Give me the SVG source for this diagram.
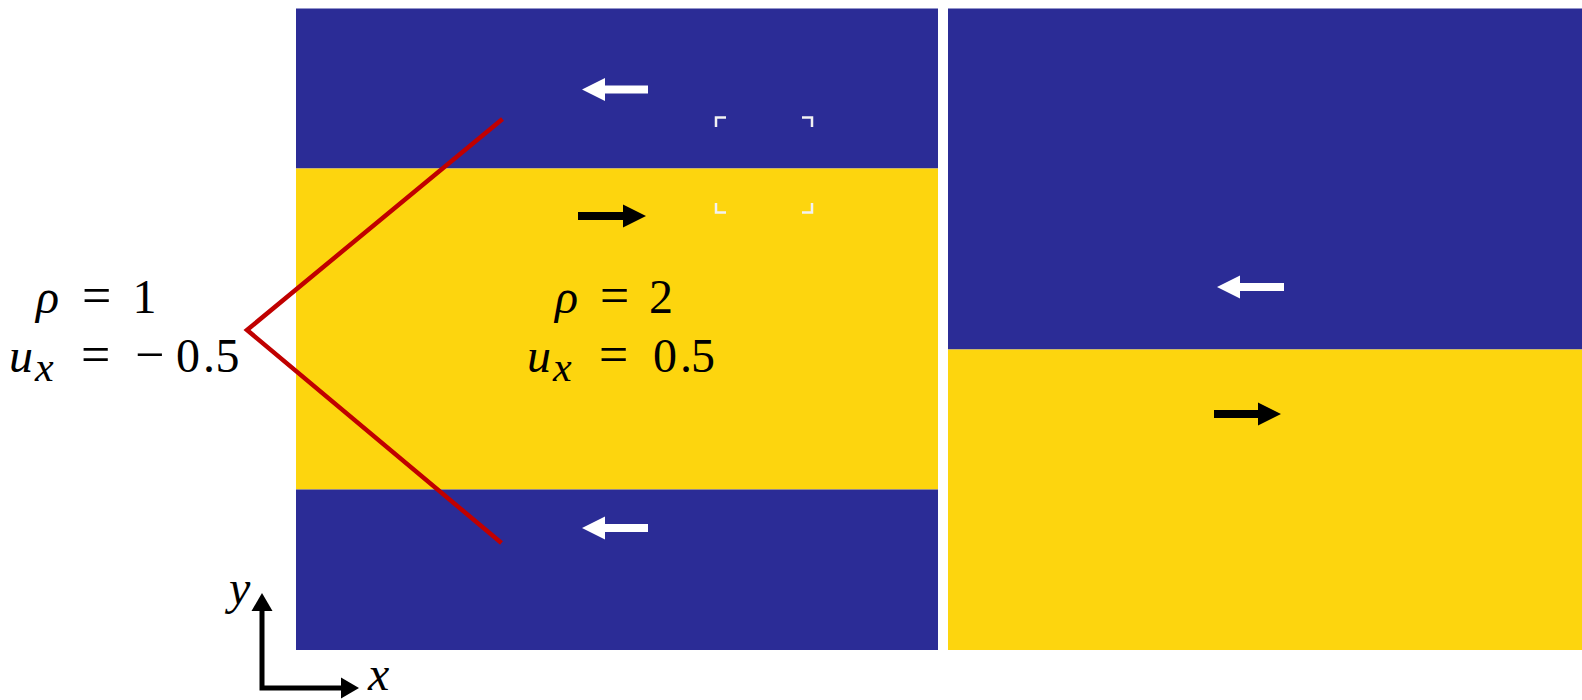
<svg xmlns="http://www.w3.org/2000/svg" width="1582" height="700" viewBox="0 0 1582 700">
<defs>
<style>
.blue{fill:#2B2C96}
.yellow{fill:#FDD50E}
.wa{fill:#FFFFFF}
.ba{fill:#000000}
.lbl{font-family:"Liberation Serif","Times New Roman",serif;font-size:48px;fill:#000}
.it{font-style:italic}
.sub{font-size:42px;font-style:italic}
.op{font-size:52px}
.br{fill:none;stroke:#F2F2F2;stroke-width:2.5}
.ax{stroke:#000;stroke-width:5;fill:none}
</style>
</defs>
<rect width="1582" height="700" fill="#FFFFFF"/>
<g id="left-panel">
<rect class="blue" x="296" y="8.5" width="642" height="160"/>
<rect class="yellow" x="296" y="168.5" width="642" height="321"/>
<rect class="blue" x="296" y="489.5" width="642" height="160.5"/>
</g>
<g id="right-panel">
<rect class="blue" x="948" y="8.5" width="634" height="341"/>
<rect class="yellow" x="948" y="349.5" width="634" height="300.5"/>
</g>
<g id="arrows">
<polygon class="wa" points="582,89.5 605,78 605,85.5 648,85.5 648,93.5 605,93.5 605,101"/>
<polygon class="ba" points="646,216 623,204.5 623,212 578,212 578,220 623,220 623,227.5"/>
<polygon class="wa" points="582,528 605,516.5 605,524 648,524 648,532 605,532 605,539.5"/>
<polygon class="wa" points="1217,287 1240,275.5 1240,283 1284,283 1284,291 1240,291 1240,298.5"/>
<polygon class="ba" points="1281,414 1258,402.5 1258,410 1214,410 1214,418 1258,418 1258,425.5"/>
</g>
<g id="brackets">
<path class="br" d="M716,127 V117.5 H726"/>
<path class="br" d="M802,117.5 H812 V127"/>
<path class="br" d="M716,203 V212.5 H726"/>
<path class="br" d="M802,212.5 H812 V203"/>
</g>
<g id="connectors">
<polyline points="502.5,119 247,330 501.5,543" fill="none" stroke="#C00000" stroke-width="4.5"/>
</g>
<g id="label-outer">
<text class="lbl" y="313"><tspan class="it" x="36">ρ </tspan><tspan class="op" x="82" y="313">= </tspan><tspan x="132.5">1</tspan></text>
<text class="lbl" y="372"><tspan class="it" x="9">u</tspan><tspan class="sub" x="35" y="381">x </tspan><tspan class="op" x="81" y="372">= </tspan><tspan class="op" x="135">−</tspan><tspan x="176">0</tspan><tspan x="203">.</tspan><tspan x="215.5">5</tspan></text>
</g>
<g id="label-inner">
<text class="lbl" y="313"><tspan class="it" x="555">ρ </tspan><tspan class="op" x="600" y="313">= </tspan><tspan x="649">2</tspan></text>
<text class="lbl" y="372"><tspan class="it" x="527">u</tspan><tspan class="sub" x="553" y="381">x </tspan><tspan class="op" x="599" y="372">= </tspan><tspan x="653">0</tspan><tspan x="680">.</tspan><tspan x="691">5</tspan></text>
</g>
<g id="axes">
<path class="ax" d="M262,607 V688 H345"/>
<polygon class="ba" points="262,593 251.5,611 272.5,611"/>
<polygon class="ba" points="359,688 341,677.5 341,698.5"/>
<text class="lbl it" x="229" y="604">y</text>
<text class="lbl it" x="368" y="690">x</text>
</g>
</svg>
